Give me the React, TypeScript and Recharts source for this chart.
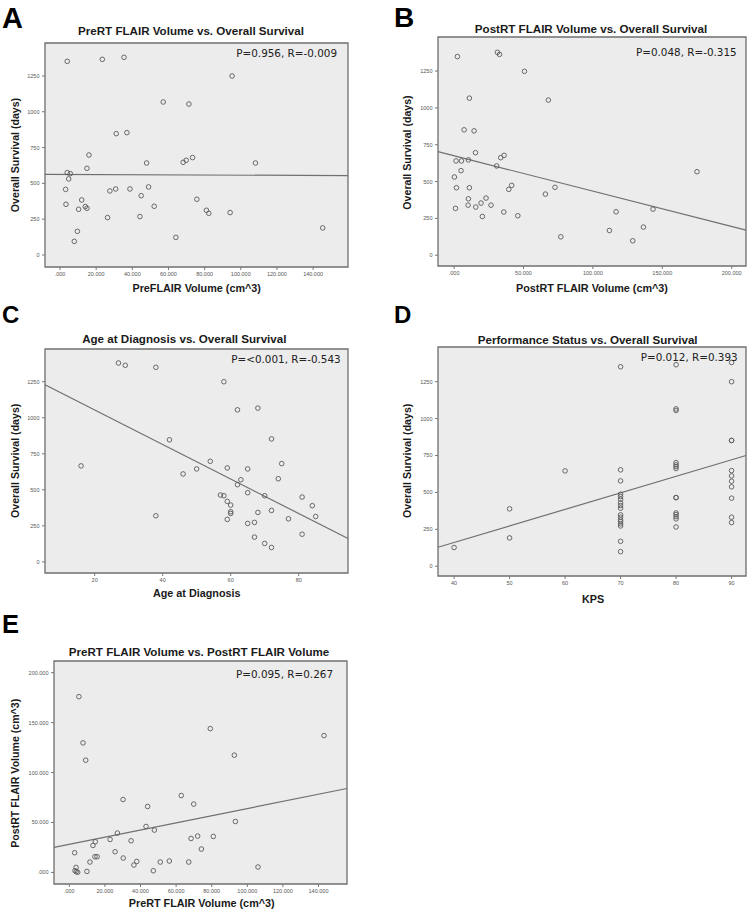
import React from 'react';
import { ScatterChart, Scatter, XAxis, YAxis, CartesianGrid, ReferenceArea, ReferenceLine } from 'recharts';

// ---------- Panel A: PreRT FLAIR volume vs overall survival ----------
const preVolA = [4.0, 23.4, 35.4, 95.2, 57.1, 71.3, 31.1, 37.0, 16.0, 14.9, 47.9, 68.1, 69.8, 73.3, 108.1, 4.0, 5.7, 4.8, 3.1, 3.3, 12.0, 10.3, 14.0, 14.9, 27.6, 30.8, 38.7, 49.0, 44.9, 52.1, 26.3, 44.2, 75.7, 81.0, 82.3, 94.1, 9.6, 7.9, 64.1, 145.3];
const osA = [1352, 1366, 1380, 1250, 1068, 1054, 847, 854, 698, 605, 642, 647, 661, 680, 642, 575, 568, 531, 458, 354, 384, 319, 338, 326, 447, 461, 461, 475, 414, 340, 261, 268, 389, 312, 291, 296, 165, 95, 123, 189];
const fitA = [{ x: -8.3, y: 563 }, { x: 159.3, y: 554 }];

// ---------- Panel B: PostRT FLAIR volume vs overall survival ----------
const postVolB = [2.4, 31.2, 32.7, 50.7, 11.0, 67.9, 7.2, 14.4, 15.4, 1.4, 5.3, 10.3, 5.0, 0.2, 1.7, 11.0, 1.0, 10.3, 10.1, 15.6, 19.4, 23.0, 26.6, 20.4, 30.7, 33.6, 36.0, 39.4, 41.5, 35.8, 45.9, 65.8, 72.7, 76.9, 116.7, 111.9, 128.7, 136.4, 143.3, 175.0];
const osB = [1348, 1377, 1363, 1248, 1066, 1053, 851, 844, 696, 640, 640, 647, 574, 531, 458, 458, 318, 383, 340, 327, 354, 388, 340, 263, 606, 662, 678, 447, 474, 293, 268, 415, 461, 125, 295, 168, 98, 191, 313, 567];
const fitB = [{ x: -11.6, y: 703 }, { x: 210.3, y: 170 }];

// ---------- Panel C: age at diagnosis vs overall survival ----------
const ageC = [27, 29, 38, 58, 62, 68, 72, 42, 16, 54, 46, 50, 59, 65, 75, 74, 63, 62, 65, 57, 58, 59, 60, 60, 60, 59, 68, 72, 70, 81, 84, 85, 77, 65, 67, 38, 67, 70, 72, 81];
const osC = [1380, 1364, 1350, 1250, 1055, 1067, 853, 847, 666, 698, 610, 645, 652, 645, 682, 577, 570, 536, 480, 464, 459, 420, 394, 348, 336, 295, 343, 357, 459, 450, 390, 315, 299, 267, 274, 320, 172, 128, 100, 192];
const fitC = [{ x: 5.4, y: 1229 }, { x: 94.5, y: 162 }];

// ---------- Panel D: KPS vs overall survival ----------
const kpsD = [40, 50, 50, 60,
  70, 70, 70, 70, 70, 70, 70, 70, 70, 70, 70, 70, 70, 70, 70, 70, 70,
  80, 80, 80, 80, 80, 80, 80, 80, 80, 80, 80, 80, 80, 80,
  90, 90, 90, 90, 90, 90, 90, 90, 90, 90, 90];
const osD = [127, 389, 192, 646,
  1351, 653, 578, 488, 472, 454, 429, 411, 393, 348, 332, 314, 302, 287, 273, 169, 99,
  1365, 1066, 1055, 702, 687, 675, 662, 465, 465, 361, 350, 336, 321, 266,
  1380, 1250, 852, 852, 648, 612, 576, 538, 461, 332, 296];
const fitD = [{ x: 37.1, y: 129 }, { x: 92.6, y: 750 }];

// ---------- Panel E: PreRT vs PostRT FLAIR volume ----------
const preVolE = [5.4, 7.7, 9.2, 79.2, 92.7, 143.1, 62.9, 69.9, 30.2, 44.0, 93.3, 43.1, 47.8, 27.0, 22.9, 14.6, 13.3, 34.7, 68.4, 72.1, 80.9, 74.2, 3.0, 14.4, 15.6, 25.7, 30.3, 11.6, 36.3, 37.9, 51.1, 56.2, 67.1, 3.8, 3.2, 3.9, 4.7, 9.9, 47.2, 106.0];
const postVolE = [176, 129.7, 112.4, 144, 117.4, 137, 77, 68.4, 73, 66, 51, 46, 42.4, 39.4, 33, 30.7, 27, 31.7, 34, 36.4, 36, 23.4, 19.7, 15.7, 15.7, 20.7, 14.4, 10.4, 7.4, 11, 10.4, 11.4, 10.4, 5, 1.7, 0.7, 0.2, 1, 1.7, 5.4];
const fitE = [{ x: -8.6, y: 25 }, { x: 156, y: 84 }];

// ---------- ticks ----------
const volTicks120 = [0, 20, 40, 60, 80, 100, 120, 140];
const volTicks200 = [0, 50, 100, 150, 200];
const osTicks = [0, 250, 500, 750, 1000, 1250];
const ageTicks = [20, 40, 60, 80];
const kpsTicks = [40, 50, 60, 70, 80, 90];

const fmt3 = (v: number) => (v === 0 ? '.000' : v.toFixed(3));
const fmtInt = (v: number) => String(v);

const zip = (xs: number[], ys: number[]) => xs.map((x, i) => ({ x, y: ys[i] }));

const BG = '#ececec';
const BORDER = '#6f6f6f';
const PT = '#5a5a5a';
const TICK = '#555';
const FONT = '"Liberation Sans", Arial, sans-serif';

const Dot = (p: any) => (
  <circle cx={p.cx} cy={p.cy} r={2.3} fill="none" stroke={PT} strokeWidth={0.9} />
);

type Box = { x: number; y: number; w: number; h: number };

const Panel = ({ box, xDomain, yDomain, xTicks, yTicks, xFmt, yFmt, data, fit }: {
  box: Box; xDomain: [number, number]; yDomain: [number, number]; xTicks: number[]; yTicks: number[];
  xFmt: (v: number) => string; yFmt: (v: number) => string; data: { x: number; y: number }[]; fit: { x: number; y: number }[];
}) => {
  const YW = 46;
  return (
    <div style={{ position: 'absolute', left: box.x - YW, top: box.y - 4 }}>
      <ScatterChart width={box.w + YW + 4} height={box.h + 24} margin={{ top: 4, right: 4, bottom: 0, left: 0 }}>
        <CartesianGrid horizontal={false} vertical={false} fill={BG} fillOpacity={1} />
        <XAxis type="number" dataKey="x" domain={xDomain} ticks={xTicks} allowDataOverflow interval={0}
          tickFormatter={xFmt} height={20} tickSize={3} tickMargin={2.5} axisLine={false}
          tick={{ fontSize: 5.5, fill: TICK, fontFamily: FONT }} tickLine={{ stroke: '#777' }} />
        <YAxis type="number" dataKey="y" domain={yDomain} ticks={yTicks} allowDataOverflow interval={0}
          tickFormatter={yFmt} width={YW} tickSize={3} tickMargin={2.5} axisLine={false}
          tick={{ fontSize: 5.5, fill: TICK, fontFamily: FONT }} tickLine={{ stroke: '#777' }} />
        <ReferenceArea x1={xDomain[0]} x2={xDomain[1]} y1={yDomain[0]} y2={yDomain[1]}
          fill="none" fillOpacity={0} stroke={BORDER} strokeWidth={1.3} ifOverflow="visible" />
        <ReferenceLine segment={fit} stroke="#707070" strokeWidth={1.2} ifOverflow="visible" />
        <Scatter data={data} isAnimationActive={false} shape={Dot} />
      </ScatterChart>
    </div>
  );
};

const boxA: Box = { x: 45, y: 43, w: 303, h: 224 };
const boxB: Box = { x: 438, y: 37, w: 308, h: 229 };
const boxC: Box = { x: 45, y: 349, w: 303, h: 224 };
const boxD: Box = { x: 438, y: 347, w: 308, h: 229 };
const boxE: Box = { x: 54, y: 661, w: 293, h: 223 };

const Title = ({ x, y, children }: any) => (
  <text x={x} y={y} textAnchor="middle" fontFamily={FONT} fontWeight="bold" fontSize={11.6} fill="#1a1a1a">{children}</text>
);
const XLabel = ({ x, y, children }: any) => (
  <text x={x} y={y} textAnchor="middle" fontFamily={FONT} fontWeight="bold" fontSize={10.8} fill="#1a1a1a">{children}</text>
);
const YLabel = ({ x, y, children }: any) => (
  <text x={x} y={y} textAnchor="middle" fontFamily={FONT} fontWeight="bold" fontSize={10.6} fill="#1a1a1a"
    transform={`rotate(-90 ${x} ${y})`}>{children}</text>
);
const Stat = ({ x, y, children }: any) => (
  <text x={x} y={y} textAnchor="end" fontFamily='"DejaVu Sans", sans-serif' fontSize={10.4} fill="#222">{children}</text>
);
const Letter = ({ x, y, size, children }: any) => (
  <text x={x} y={y} fontFamily={FONT} fontWeight="bold" fontSize={size} fill="#000">{children}</text>
);

export default function App() {
  return (
    <div style={{ position: 'absolute', left: 0, top: 0, width: 750, height: 913, background: '#fff', overflow: 'hidden' }}>
      <Panel box={boxA} xDomain={[-8.3, 159.3]} yDomain={[-84, 1480]} xTicks={volTicks120} yTicks={osTicks}
        xFmt={fmt3} yFmt={fmtInt} data={zip(preVolA, osA)} fit={fitA} />
      <Panel box={boxB} xDomain={[-11.6, 210.3]} yDomain={[-73, 1481]} xTicks={volTicks200} yTicks={osTicks}
        xFmt={fmt3} yFmt={fmtInt} data={zip(postVolB, osB)} fit={fitB} />
      <Panel box={boxC} xDomain={[5.4, 94.5]} yDomain={[-77, 1477]} xTicks={ageTicks} yTicks={osTicks}
        xFmt={fmtInt} yFmt={fmtInt} data={zip(ageC, osC)} fit={fitC} />
      <Panel box={boxD} xDomain={[37.1, 92.6]} yDomain={[-66, 1485]} xTicks={kpsTicks} yTicks={osTicks}
        xFmt={fmtInt} yFmt={fmtInt} data={zip(kpsD, osD)} fit={fitD} />
      <Panel box={boxE} xDomain={[-8.6, 156]} yDomain={[-11.6, 211.7]} xTicks={volTicks120} yTicks={volTicks200}
        xFmt={fmt3} yFmt={fmt3} data={zip(preVolE, postVolE)} fit={fitE} />

      <svg width={750} height={913} style={{ position: 'absolute', left: 0, top: 0, pointerEvents: 'none' }}>
        <Letter x={2} y={28} size={29}>A</Letter>
        <Letter x={394} y={26.7} size={28}>B</Letter>
        <Letter x={2} y={323} size={24}>C</Letter>
        <Letter x={394} y={323.3} size={24}>D</Letter>
        <Letter x={2} y={633} size={25.5}>E</Letter>

        <Title x={191} y={35}>PreRT FLAIR Volume vs. Overall Survival</Title>
        <Title x={591} y={33.3}>PostRT FLAIR Volume vs. Overall Survival</Title>
        <Title x={184.3} y={343.3}>Age at Diagnosis vs. Overall Survival</Title>
        <Title x={587.7} y={344}>Performance Status vs. Overall Survival</Title>
        <Title x={199} y={656}>PreRT FLAIR Volume vs. PostRT FLAIR Volume</Title>

        <Stat x={337} y={56.7}>P=0.956, R=-0.009</Stat>
        <Stat x={736.7} y={55.7}>P=0.048, R=-0.315</Stat>
        <Stat x={340.7} y={363.3}>P=&lt;0.001, R=-0.543</Stat>
        <Stat x={737.7} y={361.3}>P=0.012, R=0.393</Stat>
        <Stat x={333} y={678.3}>P=0.095, R=0.267</Stat>

        <XLabel x={196.7} y={292.3}>PreFLAIR Volume (cm^3)</XLabel>
        <XLabel x={592} y={292}>PostRT FLAIR Volume (cm^3)</XLabel>
        <XLabel x={196.7} y={597.3}>Age at Diagnosis</XLabel>
        <XLabel x={593} y={603}>KPS</XLabel>
        <XLabel x={201.7} y={907}>PreRT FLAIR Volume (cm^3)</XLabel>

        <YLabel x={19} y={155}>Overall Survival (days)</YLabel>
        <YLabel x={411} y={152.5}>Overall Survival (days)</YLabel>
        <YLabel x={19} y={460.8}>Overall Survival (days)</YLabel>
        <YLabel x={411} y={460.8}>Overall Survival (days)</YLabel>
        <YLabel x={19} y={773.3}>PostRT FLAIR Volume (cm^3)</YLabel>
      </svg>
    </div>
  );
}
